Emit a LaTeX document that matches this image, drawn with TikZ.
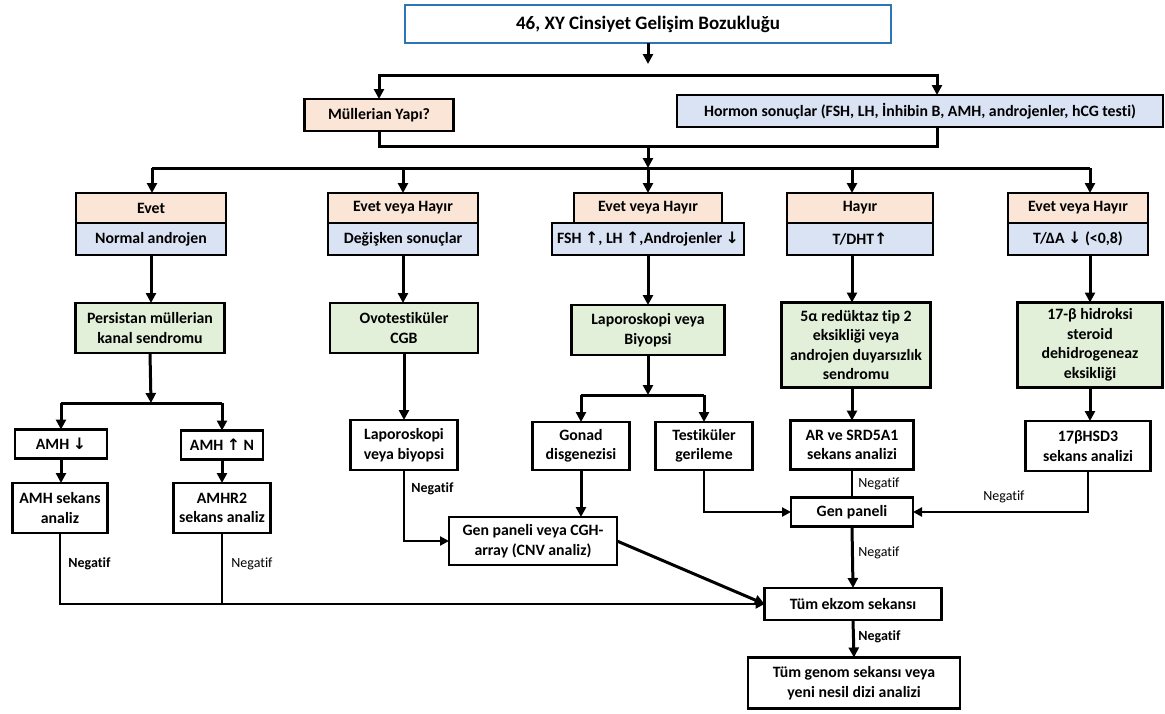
\documentclass[tikz,border=0pt]{standalone}
\usepackage{fontspec}
\setmainfont{Carlito}[Ligatures=CommonOff]
\newfontfamily\arrowfont{DejaVu Sans}
\usepackage{tikz}
\usetikzlibrary{positioning,arrows.meta,calc}
\definecolor{peach}{RGB}{251,229,214}
\definecolor{paleblue}{RGB}{218,227,243}
\definecolor{palegreen}{RGB}{226,240,217}
\definecolor{titleblue}{RGB}{46,117,182}
\newcommand{\hup}{{\arrowfont ↑}}
\newcommand{\hdown}{{\arrowfont ↓}}

\begin{document}
\begin{tikzpicture}[x=1pt, y=-1pt, thick, node distance=0pt]
% Definition of blocks:
\tikzset{%
  block/.style   = {draw, line width=2.6pt, rectangle, align=center, outer sep=0pt, inner sep=1pt,
                    font=\bfseries\fontsize{15.8}{19.5}\selectfont},
  title/.style   = {block, draw=titleblue, line width=2.4pt, font=\bfseries\fontsize{19}{22}\selectfont},
  ask/.style     = {block, fill=peach, minimum height=30pt}, % Evet / Hayir
  result/.style  = {block, fill=paleblue, minimum height=32pt}, % hormone results
  diag/.style    = {block, fill=palegreen}, % diagnosis
  test/.style    = {block, fill=white}, % analysis
  arr/.style     = {line width=3pt, -{Triangle[length=10pt,width=10pt]}},
  conn/.style    = {line width=3pt},
  link/.style    = {line width=2.2pt},
  linkarr/.style = {link, -{Triangle[length=9pt,width=9pt]}},
  neg/.style     = {anchor=west, inner sep=0pt, font=\fontsize{14}{16}\selectfont},
  negb/.style    = {neg, font=\bfseries\fontsize{14}{16}\selectfont}
}
\useasboundingbox (0,0) rectangle (1165,713);

\draw
  node [title, minimum width=486pt, minimum height=38pt] at (648,24) (dsd) {46, XY Cinsiyet Gelişim Bozukluğu}
  node [ask, minimum width=149pt, minimum height=32pt] at (379,115) (mul) {Müllerian Yapı?}
  node [result, minimum width=486pt] at (920,111) (hor) {Hormon sonuçlar (FSH, LH, İnhibin B, AMH, androjenler, hCG testi)}
  % row of answers
  node [ask, minimum width=150pt] at (151,208) (e1) {Evet}
  node [result, minimum width=150pt, below=of e1] (b1) {Normal androjen}
  node [ask, minimum width=150pt] at (403,208) (e2) {Evet veya Hayır}
  node [result, minimum width=150pt, below=of e2] (b2) {Değişken sonuçlar}
  node [ask, minimum width=148pt] at (648,208) (e3) {Evet veya Hayır}
  node [result, minimum width=192pt, below=of e3] (b3) {FSH \hup, LH \hup,Androjenler \hdown}
  node [ask, minimum width=146pt] at (860,208) (e4) {Hayır}
  node [result, minimum width=146pt, below=of e4] (b4) {T/DHT\hup}
  node [ask, minimum width=140pt] at (1078,208) (e5) {Evet veya Hayır}
  node [result, minimum width=140pt, below=of e5] (b5) {T/ΔA \hdown\ (<0,8)}
  % diagnoses
  node [diag, minimum width=149pt, minimum height=50pt] at (150,328) (g1) {Persistan müllerian\\kanal sendromu}
  node [diag, minimum width=148pt, minimum height=50pt] at (404,328) (g2) {Ovotestiküler\\CGB}
  node [diag, minimum width=153pt, minimum height=50pt] at (648,330) (g3) {Laporoskopi veya\\Biyopsi}
  node [diag, minimum width=149pt, minimum height=85pt] at (856,345) (g4) {5α redüktaz tip 2\\eksikliği veya\\androjen duyarsızlık\\sendromu}
  node [diag, minimum width=145pt, minimum height=85pt] at (1090,345) (g5) {17-β hidroksi\\steroid\\dehidrogeneaz\\eksikliği}
  % tests
  node [test, minimum width=92pt, minimum height=29pt] at (61,444) (a1) {AMH \hdown}
  node [test, minimum width=82pt, minimum height=29pt] at (222,445) (a2) {AMH \hup\ N}
  node [test, minimum width=95pt, minimum height=50pt] at (60,508) (s1) {AMH sekans\\analiz}
  node [test, minimum width=97pt, minimum height=50pt] at (222,508) (s2) {AMHR2\\sekans analiz}
  node [test, minimum width=107pt, minimum height=50pt] at (404,445) (lap) {Laporoskopi\\veya biyopsi}
  node [test, minimum width=97pt, minimum height=48pt] at (581,446) (gon) {Gonad\\disgenezisi}
  node [test, minimum width=97pt, minimum height=48pt] at (704,446) (tes) {Testiküler\\gerileme}
  node [test, minimum width=168pt, minimum height=48pt] at (533,541) (cgh) {Gen paneli veya CGH-\\array (CNV analiz)}
  node [test, minimum width=123pt, minimum height=49pt] at (852,445) (ar) {AR ve SRD5A1\\sekans analizi}
  node [test, minimum width=125pt, minimum height=50pt] at (1088,446) (hsd) {17βHSD3\\sekans analizi}
  node [test, minimum width=122pt, minimum height=29pt] at (852,512) (gen) {Gen paneli}
  node [test, minimum width=177pt, minimum height=32pt] at (853,604) (wes) {Tüm ekzom sekansı}
  node [test, minimum width=212pt, minimum height=51pt] at (854,683) (wgs) {Tüm genom sekansı veya\\yeni nesil dizi analizi};

\coordinate (t1) at (648,64);
\coordinate (j1) at (648,75);
\coordinate (j2) at (648,146);
\coordinate (j3) at (648,168);
\coordinate (k1) at (152,168);
\coordinate (k2) at (403,168);
\coordinate (k4) at (852,168);
\coordinate (k5) at (1090,168);
\coordinate (j4) at (151,403);
\coordinate (j5) at (648,395);

% top part
\draw[arr] (dsd.south) -- (t1);
\draw[arr] (j1) -| (mul.north);
\draw[arr] (j1) -| ([xshift=17pt]hor.north);
\draw[conn] (mul.south) |- (j2) -| ([xshift=17pt]hor.south);
\draw[arr] (j2) -- (j3);
\draw[conn] (k1) -- (k5);
\draw[arr] (k1) -- (k1 |- e1.north);
\draw[arr] (k2) -- (k2 |- e2.north);
\draw[arr] (j3) -- (j3 |- e3.north);
\draw[arr] (k4) -- (k4 |- e4.north);
\draw[arr] (k5) -- (k5 |- e5.north);

% column 1
\draw[arr] (b1.south) -- (b1.south |- g1.north);
\draw[arr] (g1.south) -- (j4);
\draw[conn] (a1.north |- j4) -- (a2.north |- j4);
\draw[arr] (a1.north |- j4) -- (a1.north);
\draw[arr] (a2.north |- j4) -- (a2.north);
\draw[arr] (a1.south) -- (a1.south |- s1.north);
\draw[arr] (a2.south) -- (s2.north);
\draw[linkarr] (s1.south) |- (wes.west);
\draw[link] (s2.south) -- (s2.south |- wes.west);
\node[negb] (n1) at (68,564) {Negatif};
\node[neg] (n2) at (231,564) {Negatif};

% column 2
\draw[arr] (b2.south) -- (b2.south |- g2.north);
\draw[arr] (g2.south) -- (lap.north);
\draw[linkarr] (lap.south) |- (cgh.west);
\node[negb] (n3) at (411,489) {Negatif};

% column 3
\draw[arr] (b3.south -| g3.north) -- (g3.north);
\draw[arr] (g3.south) -- (j5);
\draw[conn] (gon.north |- j5) -- (tes.north |- j5);
\draw[arr] (gon.north |- j5) -- (gon.north);
\draw[arr] (tes.north |- j5) -- (tes.north);
\draw[arr] (gon.south) -- (gon.south |- cgh.north);
\draw[linkarr] (tes.south) |- (gen.west);
\draw[arr] (cgh.east) -- (wes.west);

% column 4
\draw[arr] (ar.north |- b4.south) -- (ar.north |- g4.north);
\draw[arr] (ar.north |- g4.south) -- (ar.north);
\draw[link] (ar.south) -- (gen.north);
\node[neg] (n4) at (858,484) {Negatif};
\draw[arr] (gen.south) -- (wes.north);
\node[neg] (n5) at (858,553) {Negatif};
\draw[arr] (wes.south) -- (wgs.north);
\node[negb] (n6) at (858,637) {Negatif};

% column 5
\draw[arr] (g5.north |- b5.south) -- (g5.north);
\draw[arr] (g5.south) -- (g5.south |- hsd.north);
\draw[linkarr] (hsd.south) |- (gen.east);
\node[neg] (n7) at (983,497) {Negatif};
%
\end{tikzpicture}
\end{document}
